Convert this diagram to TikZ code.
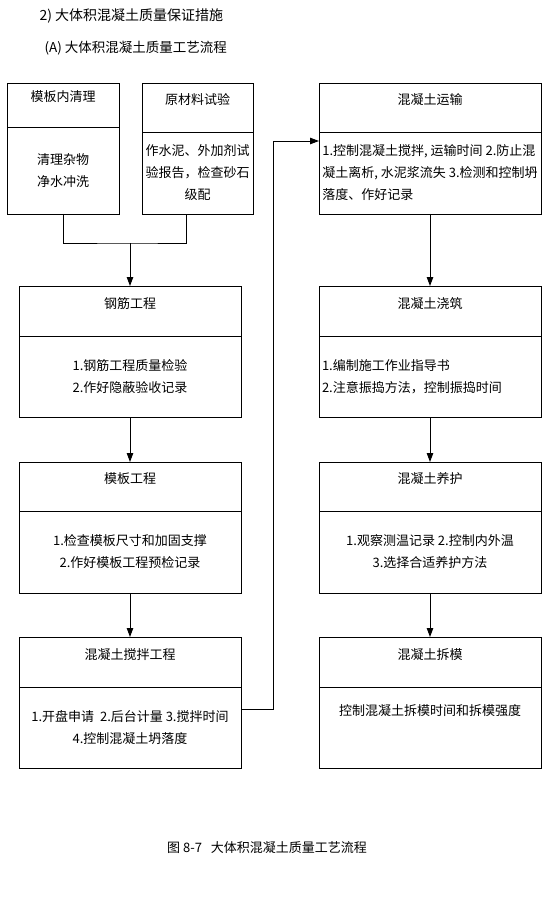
\documentclass[tikz,border=0pt]{standalone}
\usepackage{fontspec}
\setmainfont{Noto Sans CJK SC}
\usetikzlibrary{arrows.meta, positioning, calc}

\begin{document}
\begin{tikzpicture}[
    x=1pt, y=-1pt,
    node distance=0pt,
    head/.style={rectangle, draw, line width=0.9pt, outer sep=0pt, minimum width=222pt, minimum height=50pt, inner sep=0pt, font=\fontsize{13}{22}\selectfont, text height=10pt, text depth=16pt},
    body/.style={rectangle, draw, line width=0.9pt, outer sep=0pt, minimum width=222pt, minimum height=81pt, inner sep=2pt, align=center, font=\fontsize{13}{22}\selectfont},
    arrow/.style={-{Triangle[length=9pt, width=6.5pt]}, line width=0.9pt},
    link/.style={line width=0.9pt}
  ]
  \useasboundingbox (0,0) rectangle (553,909);

  % Titles
  \node[anchor=west, font=\fontsize{14}{16}\selectfont] (title1) at (36,16) {2) 大体积混凝土质量保证措施};
  \node[anchor=west, font=\fontsize{13.5}{16}\selectfont] (title2) at (41,48) {(A) 大体积混凝土质量工艺流程};

  % Left column: preparation boxes
  \node[head, anchor=north, minimum width=112pt, minimum height=44pt] (clean) at (63,83) {模板内清理};
  \node[body, below=of clean, minimum width=112pt, minimum height=87pt] (cleanb) {清理杂物\\净水冲洗};
  \node[head, anchor=north, minimum width=111pt, minimum height=49pt] (test) at (197.5,83) {原材料试验};
  \node[body, below=of test, minimum width=111pt, minimum height=82pt] (testb) {作水泥、外加剂试\\验报告，检查砂石\\级配};

  % Left column: main stages
  \node[head, anchor=north] (steel) at (130,286) {钢筋工程};
  \node[body, below=of steel] (steelb) {1.钢筋工程质量检验\\2.作好隐蔽验收记录};
  \node[head, anchor=north, minimum height=49pt] (form) at (130,462) {模板工程};
  \node[body, below=of form, minimum height=82pt] (formb) {1.检查模板尺寸和加固支撑\\2.作好模板工程预检记录};
  \node[head, anchor=north] (mix) at (130,637) {混凝土搅拌工程};
  \node[body, below=of mix] (mixb) {1.开盘申请\ \ 2.后台计量 3.搅拌时间\\4.控制混凝土坍落度};

  % Right column
  \node[head, anchor=north, minimum height=49pt] (trans) at (430,83) {混凝土运输};
  \node[body, below=of trans, minimum height=82pt, align=left] (transb) {1.控制混凝土搅拌, 运输时间 2.防止混\\凝土离析, 水泥浆流失 3.检测和控制坍\\落度、作好记录};
  \node[head, anchor=north] (pour) at (430,286) {混凝土浇筑};
  \node[body, below=of pour, align=left, text width=216pt] (pourb) {1.编制施工作业指导书\\2.注意振捣方法，控制振捣时间};
  \node[head, anchor=north, minimum height=49pt] (cure) at (430,462) {混凝土养护};
  \node[body, below=of cure, minimum height=82pt] (cureb) {1.观察测温记录 2.控制内外温\\3.选择合适养护方法};
  \node[head, anchor=north] (strip) at (430,637) {混凝土拆模};
  \node[body, below=of strip, text height=10pt, text depth=34pt] (stripb) {控制混凝土拆模时间和拆模强度};

  % Caption
  \node[font=\fontsize{13}{16}\selectfont] (caption) at (267,848) {图 8-7\ \ \ 大体积混凝土质量工艺流程};

  % Connectors
  \coordinate (join) at (130,243);
  \coordinate (testfoot) at ($(testb.south)+(-11,0)$);
  \draw[link] (cleanb.south) |- (join) -| (testfoot);
  \draw[arrow] (join) -- (steel.north);
  \draw[arrow] (steelb) -- (form);
  \draw[arrow] (formb) -- (mix);

  \coordinate (upA) at (273,709);
  \coordinate (upB) at (273,141);
  \draw[arrow] (mixb.east |- upA) -- (upA) -- (upB) -- (transb.west |- upB);

  \draw[arrow] (transb) -- (pour);
  \draw[arrow] (pourb) -- (cure);
  \draw[arrow] (cureb) -- (strip);

\end{tikzpicture}
\end{document}
